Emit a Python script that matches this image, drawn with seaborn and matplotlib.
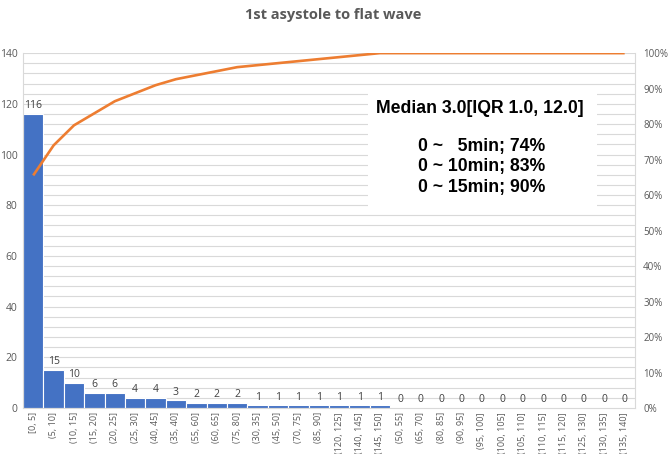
import numpy as np
import matplotlib
matplotlib.use("Agg")
import matplotlib.pyplot as plt
import pandas as pd
import seaborn as sns
from matplotlib.ticker import PercentFormatter, MultipleLocator

# data (pareto order)
bins = ['[0, 5]', '(5, 10]', '(10, 15]', '(15, 20]', '(20, 25]', '(25, 30]',
        '(40, 45]', '(35, 40]', '(55, 60]', '(60, 65]', '(75, 80]', '(30, 35]',
        '(45, 50]', '(70, 75]', '(85, 90]', '(120, 125]', '(140, 145]', '(145, 150]',
        '(50, 55]', '(65, 70]', '(80, 85]', '(90, 95]', '(95, 100]', '(100, 105]',
        '(105, 110]', '(110, 115]', '(115, 120]', '(125, 130]', '(130, 135]', '(135, 140]']
counts = [116, 15, 10, 6, 6, 4, 4, 3, 2, 2, 2, 1, 1, 1, 1, 1, 1, 1,
          0, 0, 0, 0, 0, 0, 0, 0, 0, 0, 0, 0]

title = '1st asystole to flat wave'
summary_head = 'Median 3.0[IQR 1.0, 12.0]'
summary_lines = ['0 ~   5min; 74%', '0 ~ 10min; 83%', '0 ~ 15min; 90%']

BAR = '#4472C4'
LINE = '#ED7D31'
GRID = '#D9D9D9'
TXT = '#595959'

sns.set_style('white')
plt.rcParams['font.family'] = ['Open Sans', 'DejaVu Sans']

df = pd.DataFrame({'bin': bins, 'count': counts})
df['cum'] = df['count'].cumsum() / df['count'].sum()

fig = plt.figure(figsize=(6.69, 4.54), dpi=100)
ax = fig.add_axes([0.0344, 0.1013, 0.9146, 0.7817])

# minor-style grid every 4 units, like the excel default
for g in np.arange(4, 141, 4):
    ax.axhline(g, color=GRID, lw=0.8, zorder=0)

sns.barplot(data=df, x='bin', y='count', color=BAR, width=1.0,
            edgecolor='white', linewidth=0.8, saturation=1, ax=ax, zorder=2)

for i, c in enumerate(counts):
    ax.text(i, c + 1.0, str(c), ha='center', va='bottom', fontsize=7.5,
            color='#404040', zorder=3)

ax.set_ylim(0, 140)
ax.set_xlim(-0.5, len(bins) - 0.5)
ax.yaxis.set_major_locator(MultipleLocator(20))
ax.set_xlabel('')
ax.set_ylabel('')
ax.tick_params(axis='y', labelsize=7.5, labelcolor=TXT, length=0, pad=4)
ax.tick_params(axis='x', labelsize=6.5, labelcolor=TXT, length=0, pad=3)
plt.setp(ax.get_xticklabels(), rotation=90)
ax.set_xticks(np.arange(-0.5, len(bins)), minor=True)
ax.tick_params(axis='x', which='minor', length=4, color=GRID, width=0.8)
for s in ['left', 'right', 'bottom']:
    ax.spines[s].set_color(GRID)
    ax.spines[s].set_linewidth(0.8)
ax.spines['top'].set_visible(False)

ax2 = ax.twinx()
ax2.plot(np.arange(len(bins)), df['cum'], color=LINE, lw=1.9, zorder=4,
         solid_capstyle='butt')
ax2.set_ylim(0, 1)
ax2.yaxis.set_major_locator(MultipleLocator(0.1))
ax2.yaxis.set_major_formatter(PercentFormatter(1.0, decimals=0))
ax2.tick_params(axis='y', labelsize=7, labelcolor=TXT, length=0, pad=6)
for s in ax2.spines.values():
    s.set_visible(False)

# summary box
ax2.add_patch(plt.Rectangle((0.564, 0.566), 0.374, 0.33, transform=ax2.transAxes,
                            facecolor='white', edgecolor='none', zorder=5))
ax2.text(0.747, 0.845, summary_head, transform=ax2.transAxes, ha='center',
         va='center', fontsize=12.7, fontweight='bold', color='black',
         family='Liberation Sans', zorder=6)
for k, line in enumerate(summary_lines):
    ax2.text(0.75, 0.738 - k * 0.058, line, transform=ax2.transAxes, ha='center',
             va='center', fontsize=12.7, fontweight='bold', color='black',
             family='Liberation Sans', zorder=6)

fig.text(0.498, 0.968, title, ha='center', va='center', fontsize=10.5,
         fontweight='bold', color=TXT)

fig.savefig('out.png', dpi=100)
